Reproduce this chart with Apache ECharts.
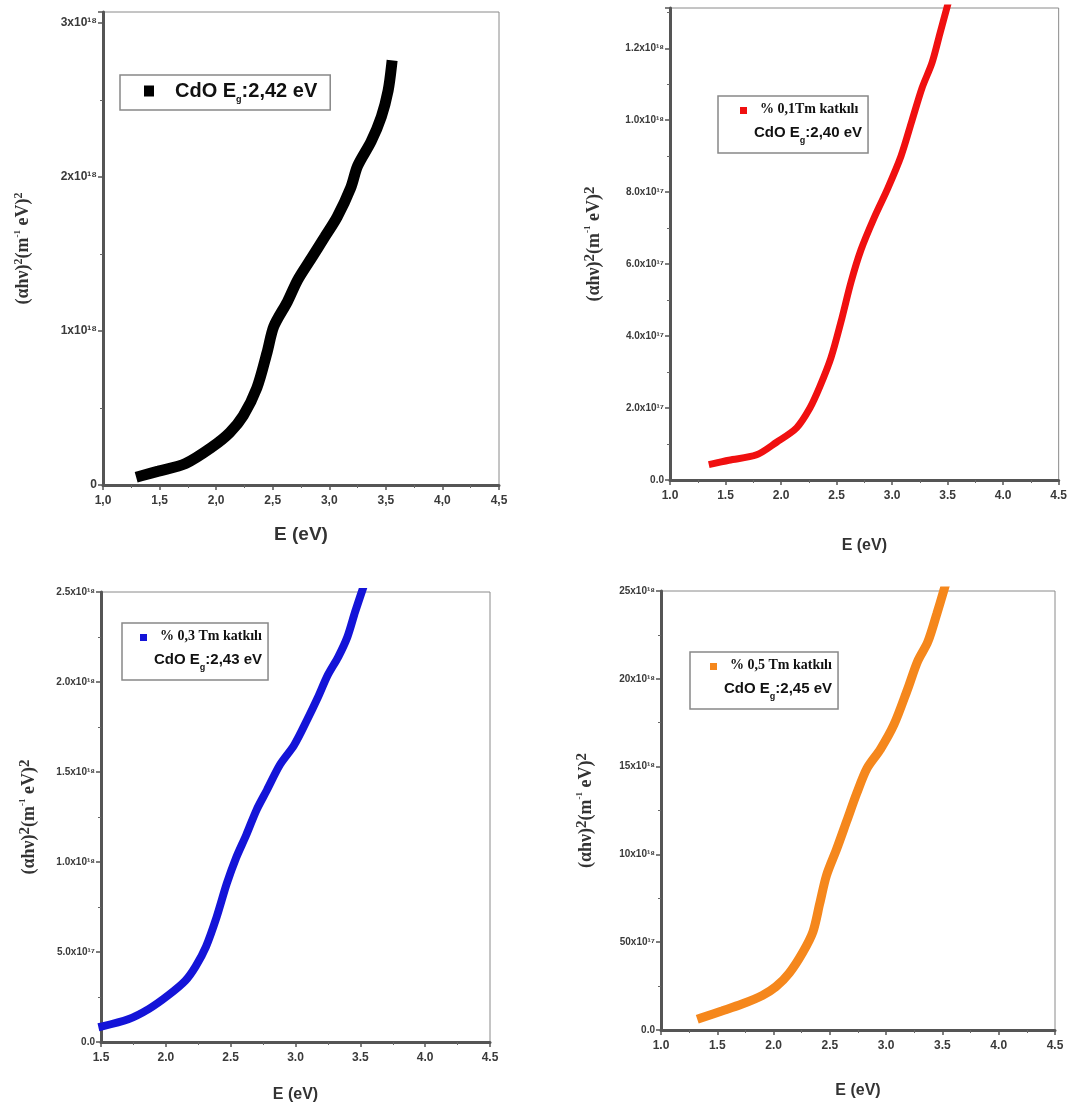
<!DOCTYPE html>
<html>
<head>
<meta charset="utf-8">
<script src="https://cdn.jsdelivr.net/npm/echarts@6/dist/echarts.min.js"></script>
<style>
html,body{margin:0;padding:0;background:#fff;}
#chart{width:1070px;height:1117px;}
</style>
</head>
<body>
<div id="chart"></div>
<script>
// Panel 1: undoped CdO (y in units of 1e18)
const e1 = [1.34,1.49,1.73,1.97,2.12,2.24,2.36,2.45,2.51,2.63,2.72,2.84,2.96,3.07,3.19,3.25,3.37,3.46,3.52,3.55];
const y1 = [0.06,0.09,0.14,0.25,0.34,0.45,0.63,0.86,1.03,1.19,1.33,1.47,1.61,1.74,1.93,2.07,2.23,2.39,2.56,2.72];
// Panel 2: % 0,1 Tm (y in units of 1e17)
const e2 = [1.38,1.53,1.78,1.96,2.14,2.26,2.35,2.45,2.54,2.63,2.72,2.84,2.96,3.08,3.18,3.27,3.36,3.43,3.50];
const y2 = [0.45,0.55,0.70,1.05,1.45,2.0,2.6,3.4,4.4,5.5,6.4,7.3,8.1,9.0,10.0,10.9,11.6,12.4,13.2];
// Panel 3: % 0,3 Tm (y in units of 1e17)
const e3 = [1.51,1.71,1.87,2.02,2.15,2.23,2.31,2.39,2.47,2.54,2.62,2.70,2.78,2.88,2.99,3.09,3.17,3.25,3.33,3.40,3.46,3.52];
const y3 = [0.87,1.26,1.84,2.6,3.4,4.2,5.3,6.9,8.8,10.2,11.5,12.9,14.0,15.4,16.5,17.9,19.1,20.4,21.4,22.5,23.9,25.2];
// Panel 4: % 0,5 Tm (y in units of 1e17)
const e4 = [1.36,1.54,1.72,1.90,2.02,2.14,2.26,2.35,2.41,2.47,2.56,2.65,2.74,2.83,2.95,3.07,3.19,3.28,3.37,3.45,3.52];
const y4 = [0.69,1.08,1.48,1.97,2.46,3.25,4.43,5.6,7.2,8.8,10.3,11.9,13.5,14.9,16.0,17.4,19.4,21.0,22.1,23.7,25.2];

// Tick labels
const yTicks1 = {0:'0',1:'1x10¹⁸',2:'2x10¹⁸',3:'3x10¹⁸'};
const yTicks2 = {0:'0.0',2:'2.0x10¹⁷',4:'4.0x10¹⁷',6:'6.0x10¹⁷',8:'8.0x10¹⁷',10:'1.0x10¹⁸',12:'1.2x10¹⁸'};
const yTicks3 = {0:'0.0',5:'5.0x10¹⁷',10:'1.0x10¹⁸',15:'1.5x10¹⁸',20:'2.0x10¹⁸',25:'2.5x10¹⁸'};
const yTicks4 = {0:'0.0',5:'50x10¹⁷',10:'10x10¹⁸',15:'15x10¹⁸',20:'20x10¹⁸',25:'25x10¹⁸'};
const xTicksComma = {1:'1,0',1.5:'1,5',2:'2,0',2.5:'2,5',3:'3,0',3.5:'3,5',4:'4,0',4.5:'4,5'};

const legendTexts = [
  ['CdO E{sub|g}:2,42 eV'],
  ['% 0,1Tm katkılı','CdO E{sub|g}:2,40 eV'],
  ['% 0,3 Tm katkılı','CdO E{sub|g}:2,43 eV'],
  ['% 0,5 Tm katkılı','CdO E{sub|g}:2,45 eV']
];
const names = ['CdO','Tm01','Tm03','Tm05'];
const colors = ['#000000','#f01010','#1414d8','#f5871c'];

const grids = [
  {left:103, top:12, width:396, height:473},
  {left:670, top:8, width:389, height:472},
  {left:101, top:592, width:389, height:450},
  {left:661, top:591, width:394, height:439}
];

const chart = echarts.init(document.getElementById('chart'));
const narrow = '"Liberation Sans Narrow","Liberation Sans",Arial,sans-serif';
const serif = '"Liberation Serif","Times New Roman",serif';
const sans = 'Arial,"Liberation Sans",sans-serif';

function pair(e, y){ return e.map((v,i)=>[v,y[i]]); }
function fmt(map){ return function(v){ const k = Math.round(v*100)/100; return map[k]!==undefined ? map[k] : ''; }; }

const yCfg = [
  {max:3.07, interval:1, map:yTicks1, gap:70},
  {max:13.12, interval:2, map:yTicks2, gap:64},
  {max:25, interval:5, map:yTicks3, gap:60},
  {max:25, interval:5, map:yTicks4, gap:63}
];
const xCfg = [
  {min:1, map:xTicksComma, gap:40},
  {min:1, map:null, gap:58},
  {min:1.5, map:null, gap:45},
  {min:1, map:null, gap:53}
];
const lw = [11,7,8,9];

const yTitle = '{m|(αhν)}{s|2}{m|(m}{t|-1}{m| eV)}{s|2}';
function yRich(big){
  return {
    m:{fontSize:18, fontWeight:'bold', fontFamily:serif, color:'#333'},
    s:{fontSize:big?12:15, fontWeight:'bold', fontFamily:serif, color:'#333', verticalAlign:'top', padding:[0,0,8,0]},
    t:{fontSize:9, fontWeight:'bold', fontFamily:serif, color:'#333', verticalAlign:'top', padding:[0,0,8,0]}
  };
}
// square icon drawn at the top of a tall transparent box so it sits on the first legend line
const topIcon = 'path://M0,0L10,0L10,10L0,10Z M0,39.95L0.05,39.95L0.05,40L0,40Z';

const option = {
  backgroundColor:'#ffffff',
  animation:false,
  grid: grids.map(g=>Object.assign({show:true, borderColor:'#8a8a8a', borderWidth:1, backgroundColor:'transparent'}, g)),
  xAxis: xCfg.map((c,i)=>({
    type:'value', gridIndex:i, min:c.min, max:4.5, interval:0.5,
    name:'E (eV)', nameLocation:'middle', nameGap:c.gap,
    nameTextStyle:{fontSize: i===0?19:16, fontWeight:'bold', color:'#333', fontFamily: i===0?sans:narrow},
    axisLine:{show:true, onZero:false, lineStyle:{color:'#555', width:3}},
    axisTick:{show:true, inside:false, length:5, lineStyle:{color:'#555', width:1.5}},
    minorTick:{show:true, splitNumber:2, length:3, lineStyle:{color:'#666'}},
    splitLine:{show:false},
    axisLabel:{color:'#3a3a3a', fontSize:12, fontWeight:'bold', fontFamily:narrow, margin:10,
      formatter: c.map ? fmt(c.map) : function(v){return v.toFixed(1);}}
  })),
  yAxis: yCfg.map((c,i)=>({
    type:'value', gridIndex:i, min:0, max:c.max, interval:c.interval,
    name:yTitle, nameLocation:'middle', nameGap:c.gap,
    nameTextStyle:{rich: yRich(i===0)},
    axisLine:{show:true, onZero:false, lineStyle:{color:'#555', width:3}},
    axisTick:{show:true, inside:false, length:5, lineStyle:{color:'#555', width:1.5}},
    minorTick:{show:true, splitNumber:2, length:3, lineStyle:{color:'#666'}},
    splitLine:{show:false},
    axisLabel:{color:'#3a3a3a', fontSize: i===0?12:10, fontWeight:'bold', fontFamily:narrow, margin:6,
      showMaxLabel: c.max % c.interval === 0, formatter: fmt(c.map)}
  })),
  legend: legendTexts.map((lines,i)=>{
    const pos = [
      {left:120, top:75, padding:[6,13,6,24]},
      {left:718, top:96, padding:[6,6,8,22]},
      {left:122, top:623, padding:[6,6,8,18]},
      {left:690, top:652, padding:[6,6,8,20]}
    ][i];
    const rich = {
      a:{fontFamily: serif, fontWeight:'bold', fontSize:14, color:'#111', lineHeight:24, padding:[0,0,0,8]},
      b:{fontFamily: i===0?sans:narrow, fontWeight:'bold', fontSize:i===0?20:15, color:'#111', lineHeight:i===0?26:24},
      b0:{fontFamily: i===0?sans:narrow, fontWeight:'bold', fontSize:i===0?20:15, color:'#111', lineHeight:i===0?26:24, padding:[0,0,0,i===0?16:2]},
      sub:{fontSize:9, color:'#111', verticalAlign:'bottom', padding:[10,0,0,0], fontWeight:'bold'}
    };
    const icon = i===0 ? 'rect' : topIcon;
    return {
      data:[{name:names[i], icon:icon}], left:pos.left, top:pos.top, orient:'vertical',
      padding:pos.padding, borderColor:'#888', borderWidth:1.5, backgroundColor:'#fff',
      itemWidth: i===0?10:7, itemHeight: i===0?11:30, itemGap:4,
      textStyle:{rich:rich},
      formatter: function(){
        if (lines.length===1) return '{b0|'+lines[0].replace('{sub|g}','}{sub|g}{b|')+'}';
        return '{a|'+lines[0]+'}\n{b0|'+lines[1].replace('{sub|g}','}{sub|g}{b|')+'}';
      }
    };
  }),
  series: [pair(e1,y1),pair(e2,y2),pair(e3,y3),pair(e4,y4)].map((d,i)=>({
    name:names[i], type:'line', xAxisIndex:i, yAxisIndex:i, data:d,
    smooth:0.3, showSymbol:false, symbol:'rect',
    itemStyle:{color:colors[i]},
    lineStyle:{color:colors[i], width:lw[i], cap:'square'},
    clip:true
  }))
};
chart.setOption(option);
</script>
</body>
</html>
